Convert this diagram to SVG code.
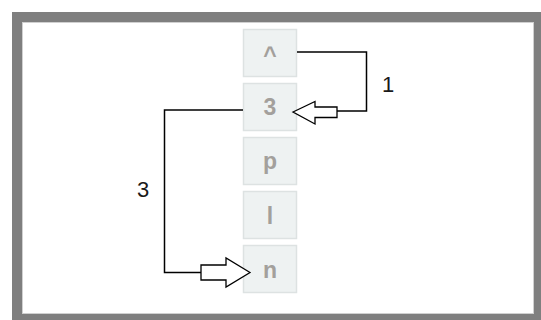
<svg xmlns="http://www.w3.org/2000/svg" width="541" height="320" viewBox="0 0 541 320">
<style>
.box{fill:#eef2f2;stroke:#dde2e2;stroke-width:1.5}
.bt{font-family:"Liberation Sans",Arial,sans-serif;font-weight:bold;font-size:23px;fill:#a3a09c;text-anchor:middle}
.lbl{font-family:"Liberation Sans",Arial,sans-serif;font-size:22px;fill:#1a1a1a;text-anchor:middle}
.ln{fill:none;stroke:#000;stroke-width:1.5}
.ah{fill:#fff;stroke:#000;stroke-width:1.3;stroke-linejoin:miter}
</style>
<rect x="0" y="0" width="541" height="320" fill="#fff"/>
<rect x="17" y="17" width="522" height="302" fill="#fff" stroke="#7f7f7f" stroke-width="10"/>
<rect x="22.5" y="22.5" width="511" height="291" fill="none" stroke="#d0d0d0" stroke-width="1"/>
<g id="node-caret"><rect class="box" x="243.5" y="29.5" width="53" height="47"/><text class="bt" x="270" y="63">^</text></g>
<g id="node-3"><rect class="box" x="243.5" y="83.5" width="53" height="47"/><text class="bt" x="270" y="115">3</text></g>
<g id="node-p"><rect class="box" x="243.5" y="137.5" width="53" height="47"/><text class="bt" x="270" y="169">p</text></g>
<g id="node-l"><rect class="box" x="243.5" y="191.5" width="53" height="47"/><text class="bt" x="270" y="224">l</text></g>
<g id="node-n"><rect class="box" x="243.5" y="245.5" width="53" height="47"/><text class="bt" x="270" y="278">n</text></g>
<g id="connectors">
<polyline class="ln" points="297,52 366.5,52 366.5,111 337,111"/>
<polygon class="ah" points="293,112 315,101.5 315,107 337,107 337,117.5 315,117.5 315,124"/>
<text class="lbl" x="388" y="92">1</text>
<polyline class="ln" points="243,110 164.5,110 164.5,272.5 201,272.5"/>
<polygon class="ah" points="250,272.5 226,258 226,265 201,265 201,280 226,280 226,287"/>
<text class="lbl" x="143" y="197">3</text>
</g>
</svg>
